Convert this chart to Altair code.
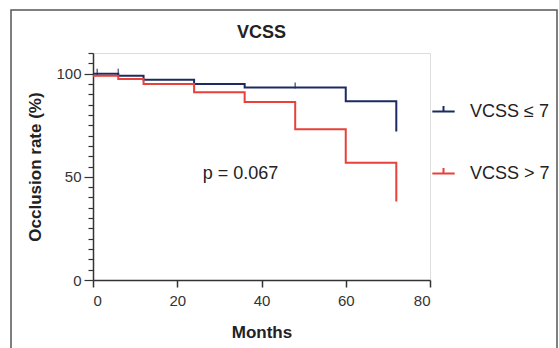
import altair as alt
import pandas as pd

# ---- data ----
groups = ["VCSS ≤ 7", "VCSS > 7"]
colors = ["#1b2a63", "#e8403a"]

blue_t = [0, 6, 12, 24, 36, 60, 72]
blue_s = [100, 99, 97, 95, 93.3, 86.6, 72]
red_t = [0, 6, 12, 24, 36, 48, 60, 72]
red_s = [99, 97.4, 95, 91, 86.3, 73, 56.8, 38]
cens_t = [1, 6, 48]
cens_s = [100, 100, 93.3]

x_ticks = [0, 20, 40, 60, 80]
y_ticks = list(range(0, 111, 5))
p_label = ["p = 0.067"]
p_x = [35]
p_y = [51.5]

FONT = "Liberation Sans"

curves = pd.DataFrame(
    {"t": blue_t + red_t,
     "s": blue_s + red_s,
     "group": [groups[0]] * len(blue_t) + [groups[1]] * len(red_t)}
)
cens = pd.DataFrame({"t": cens_t, "s": cens_s, "group": [groups[0]] * len(cens_t)})
ptxt = pd.DataFrame({"t": p_x, "s": p_y, "label": p_label})

xscale = alt.Scale(domain=[0, 80], nice=False)
yscale = alt.Scale(domain=[0, 110], nice=False)
cscale = alt.Scale(domain=groups, range=colors)

xaxis = alt.Axis(values=x_ticks, title="Months", grid=False, tickSize=7,
                 labelPadding=6, titlePadding=16, labelFontSize=15,
                 titleFontSize=17, labelFont=FONT, titleFont=FONT,
                 titleFontWeight="bold", labelColor="#333", titleColor="#222",
                 domainColor="#333", tickColor="#333", domainWidth=1.5, tickWidth=1.5)
yaxis = alt.Axis(values=y_ticks, title="Occlusion rate (%)", grid=False,
                 labelExpr="datum.value % 50 === 0 ? datum.label : ''",
                 labelOverlap=False,
                 tickSize={"condition": {"test": "datum.value % 50 === 0", "value": 9}, "value": 5},
                 labelPadding=3, titlePadding=11, labelFontSize=15,
                 titleFontSize=17, labelFont=FONT, titleFont=FONT,
                 titleFontWeight="bold", labelColor="#333", titleColor="#222",
                 domainColor="#333", tickColor="#333", domainWidth=1.5, tickWidth=1.2)

X = alt.X("t:Q", scale=xscale, axis=xaxis)
Y = alt.Y("s:Q", scale=yscale, axis=yaxis)

lines = alt.Chart(curves).mark_line(interpolate="step-after", strokeWidth=2).encode(
    x=X, y=Y,
    color=alt.Color("group:N", scale=cscale, sort=groups,
                    legend=alt.Legend(title=None, orient="none", legendX=338, legendY=46,
                                      symbolType="M-1,0H1M0,0V-0.5", symbolSize=500,
                                      symbolStrokeWidth=2, labelFontSize=18,
                                      labelFont=FONT, labelColor="#222",
                                      rowPadding=40, labelOffset=14)),
)

ticks = alt.Chart(cens).mark_tick(orient="vertical", size=6, thickness=1.5, yOffset=-2).encode(
    x=X, y=Y,
    color=alt.Color("group:N", scale=cscale, legend=None),
)

ptext = alt.Chart(ptxt).mark_text(fontSize=18, font=FONT, color="#222").encode(
    x=X, y=Y,
    text="label:N",
)

frame = alt.Chart(pd.DataFrame({"a": [0]})).mark_rect(
    filled=False, stroke="#555", strokeWidth=1.5
).encode(x=alt.value(-82), x2=alt.value(464), y=alt.value(-43), y2=alt.value(320))

chart = alt.layer(frame, lines, ticks, ptext).properties(
    width=337, height=227,
    title=alt.TitleParams("VCSS", fontSize=18, font=FONT, fontWeight="bold",
                          color="#222", offset=-33, anchor="middle"),
    autosize=alt.AutoSizeParams(type="none"),
    padding={"left": 93, "top": 53, "right": 129, "bottom": 68},
).configure_view(stroke=None).configure(background="white")

chart.save("out.html", embed_options={"renderer": "svg", "actions": False})
